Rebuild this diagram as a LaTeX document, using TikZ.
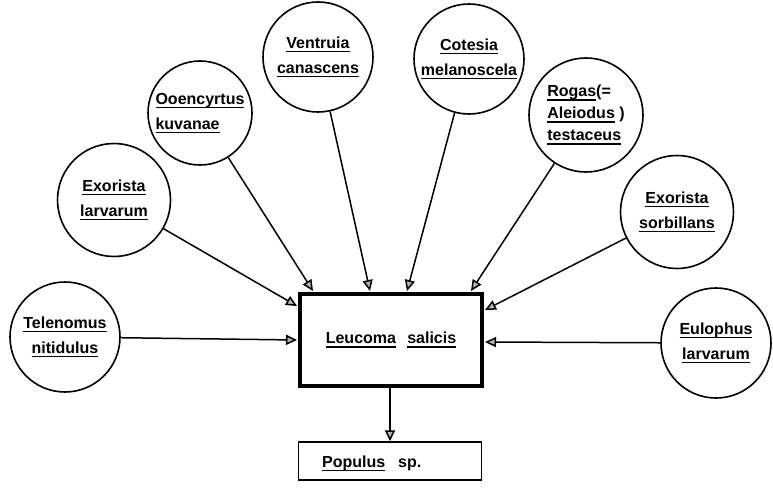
\documentclass[tikz,border=0pt]{standalone}
\usepackage{fontspec}
\setmainfont{Liberation Sans}
\usetikzlibrary{arrows.meta}
\newcommand\ulw[1]{\setbox0\hbox{#1}\rlap{\rule[-4pt]{\wd0}{1.4pt}}\box0\relax}
\tikzset{
  lbl/.style={font=\bfseries\fontsize{16}{25}\selectfont, align=center},
  bug/.style={circle, draw, line width=1.6pt, inner sep=0pt, lbl},
  arr/.style={line width=1.5pt, -{Triangle[length=11pt,width=10pt,fill=gray!60]}},
  mainbox/.style={rectangle, draw, line width=3.8pt, inner sep=0pt, minimum width=182pt, minimum height=92pt, lbl},
  hostbox/.style={rectangle, draw, line width=1.4pt, inner sep=0pt, minimum width=183pt, minimum height=38pt}
}
\begin{document}
\begin{tikzpicture}[x=1pt,y=-1pt]
\useasboundingbox (0,0) rectangle (773,487);
\node[mainbox] (main) at (391,340) {\ulw{Leucoma}\hspace{0.7em}\ulw{salicis}};
\node[hostbox] (pop) at (390,461) {};
\node[lbl, anchor=base west, inner sep=0pt] (poptext) at (322,467) {\ulw{Populus}\hspace{0.8em}sp.};

\node[bug, minimum size=110pt] (tel) at (65,337) {\ulw{Telenomus}\\\ulw{nitidulus}};
\node[bug, minimum size=113pt] (exl) at (114,200) {\ulw{Exorista}\\\ulw{larvarum}};
\node[bug, minimum size=104pt, align=left] (ooe) at (200,113) {\ulw{Ooencyrtus}\\\ulw{kuvanae}};
\node[bug, minimum size=110pt] (ven) at (318,57) {\ulw{Ventruia}\\\ulw{canascens}};
\node[bug, minimum size=110pt] (cot) at (469,59) {\ulw{Cotesia}\\\ulw{melanoscela}};
\node[bug, minimum size=114pt, align=left, font=\bfseries\fontsize{16}{22}\selectfont] (rog) at (586,115) {\ulw{Rogas}(=\\\ulw{Aleiodus} )\\\ulw{testaceus}};
\node[bug, minimum size=113pt] (exs) at (677,212) {\ulw{Exorista}\\\ulw{sorbillans}};
\node[bug, minimum size=110pt] (eul) at (716,343) {\ulw{Eulophus}\\\ulw{larvarum}};

\coordinate (ttel) at (297,340);
\coordinate (texl) at (297,306);
\coordinate (tooe) at (313,291);
\coordinate (tven) at (370,291);
\coordinate (tcot) at (407,291);
\coordinate (trog) at (471,291);
\coordinate (texs) at (485,310);
\coordinate (teul) at (485,342);

\draw[arr] (tel) -- (ttel);
\draw[arr] (exl) -- (texl);
\draw[arr] (ooe) -- (tooe);
\draw[arr] (ven) -- (tven);
\draw[arr] (cot) -- (tcot);
\draw[arr] (rog) -- (trog);
\draw[arr] (exs) -- (texs);
\draw[arr] (eul) -- (teul);
\draw[arr] (main.south -| pop.north) -- (pop.north);
\end{tikzpicture}
\end{document}
